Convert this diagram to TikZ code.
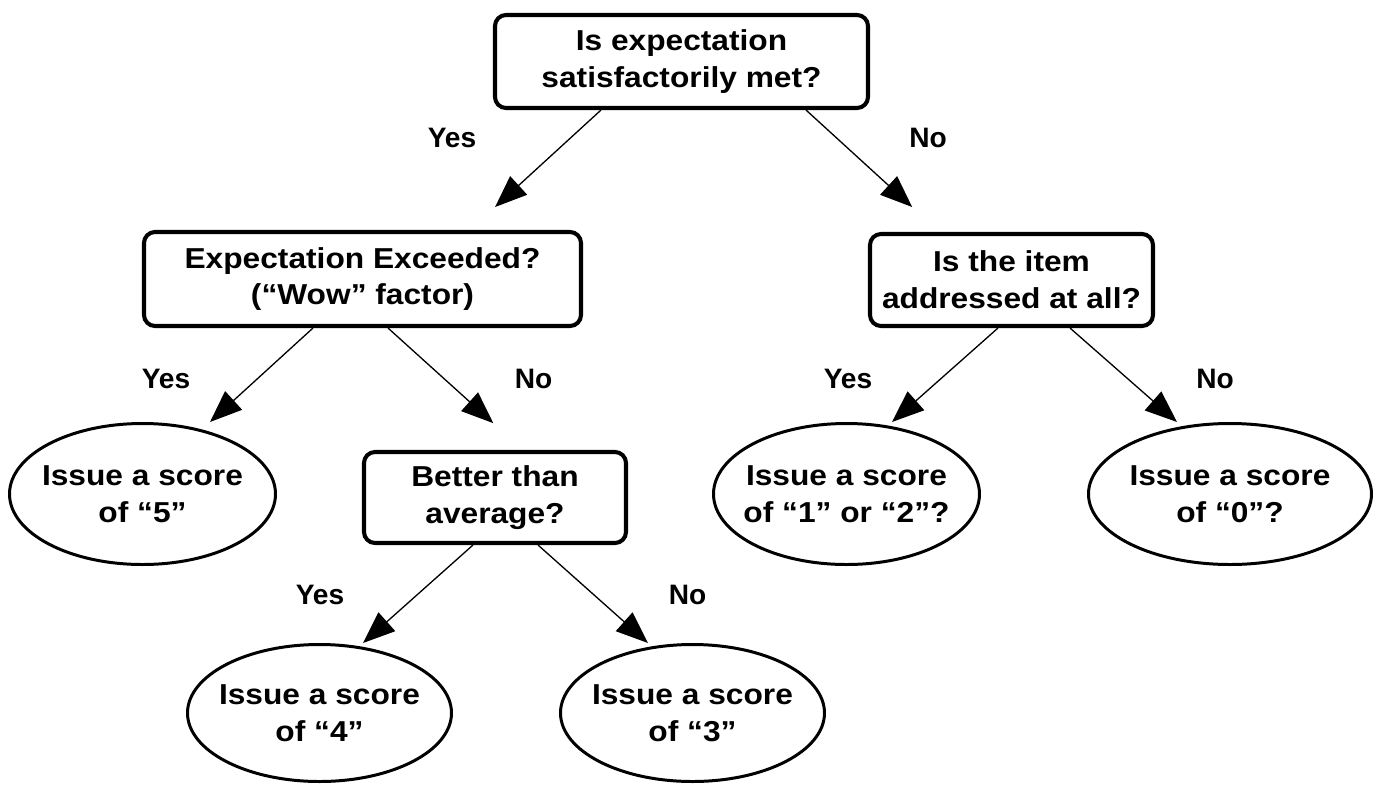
\documentclass[tikz,border=0pt]{standalone}
\usepackage{fontspec}
\setmainfont{Liberation Sans}
\newfontfamily\boxfont{Liberation Sans}[FakeStretch=1.1]
\usetikzlibrary{arrows.meta,shapes.geometric}

\begin{document}
\begin{tikzpicture}[
    every node/.style={font=\boxfont\bfseries\fontsize{16.4pt}{21pt}\selectfont},
    qbox/.style={rectangle,draw,line width=2.3pt,rounded corners=0.22cm,
                 inner sep=0pt,align=center},
    score/.style={ellipse,draw,line width=1.7pt,inner xsep=-6pt,inner ysep=0pt,
                  minimum width=5.32cm,minimum height=2.82cm,align=center},
    answer/.style={anchor=base,font=\bfseries\fontsize{16pt}{19pt}\selectfont},
    arr/.style={-{Triangle[length=0.64cm,width=0.5cm]},line width=0.75pt}]
  \useasboundingbox (0,0) rectangle (27.62,-15.70);

  % questions
  \node[qbox,minimum width=7.46cm,minimum height=1.86cm] (met) at (13.63,-1.23)
    {Is expectation\\satisfactorily met?};
  \node[qbox,minimum width=8.74cm,minimum height=1.88cm] (wow) at (7.25,-5.58)
    {Expectation Exceeded?\\(“Wow” factor)};
  \node[qbox,minimum width=5.66cm,minimum height=1.84cm] (addr) at (20.23,-5.60)
    {Is the item\\addressed at all?};
  \node[qbox,minimum width=5.24cm,minimum height=1.82cm] (better) at (9.90,-9.95)
    {Better than\\average?};

  % scores
  \node[score] (five) at (2.85,-9.88) {Issue a score\\of “5”};
  \node[score] (onetwo) at (16.93,-9.88) {Issue a score\\of “1” or “2”?};
  \node[score,minimum width=5.66cm] (zero) at (24.60,-9.88) {Issue a score\\of “0”?};
  \node[score,minimum width=5.28cm,minimum height=2.74cm] (four) at (6.39,-14.26)
    {Issue a score\\of “4”};
  \node[score,minimum width=5.28cm,minimum height=2.74cm] (three) at (13.85,-14.26)
    {Issue a score\\of “3”};

  % yes / no
  \node[answer] (metyes) at (9.04,-2.94) {Yes};
  \node[answer] (metno) at (18.56,-2.94) {No};
  \node[answer] (wowyes) at (3.32,-7.76) {Yes};
  \node[answer] (wowno) at (10.67,-7.76) {No};
  \node[answer] (addryes) at (16.96,-7.76) {Yes};
  \node[answer] (addrno) at (24.30,-7.76) {No};
  \node[answer] (betteryes) at (6.40,-12.08) {Yes};
  \node[answer] (betterno) at (13.75,-12.08) {No};

  \draw[arr,shorten >=0.68cm] ([xshift=-1.61cm]met.south) -- ([xshift=2.15cm]wow.north);
  \draw[arr,shorten >=0.74cm] ([xshift=2.49cm]met.south) -- ([xshift=-1.44cm]addr.north);
  \draw[arr] ([xshift=-0.99cm]wow.south) -- ([xshift=1.35cm]five.north);
  \draw[arr,shorten >=0.80cm] ([xshift=0.51cm]wow.south) -- ([xshift=0.56cm]better.north);
  \draw[arr] ([xshift=-0.27cm]addr.south) -- ([xshift=0.91cm]onetwo.north);
  \draw[arr] ([xshift=1.17cm]addr.south) -- ([xshift=-1.06cm]zero.north);
  \draw[arr] ([xshift=-0.44cm]better.south) -- ([xshift=0.87cm]four.north);
  \draw[arr] ([xshift=0.86cm]better.south) -- ([xshift=-0.89cm]three.north);
\end{tikzpicture}
\end{document}
